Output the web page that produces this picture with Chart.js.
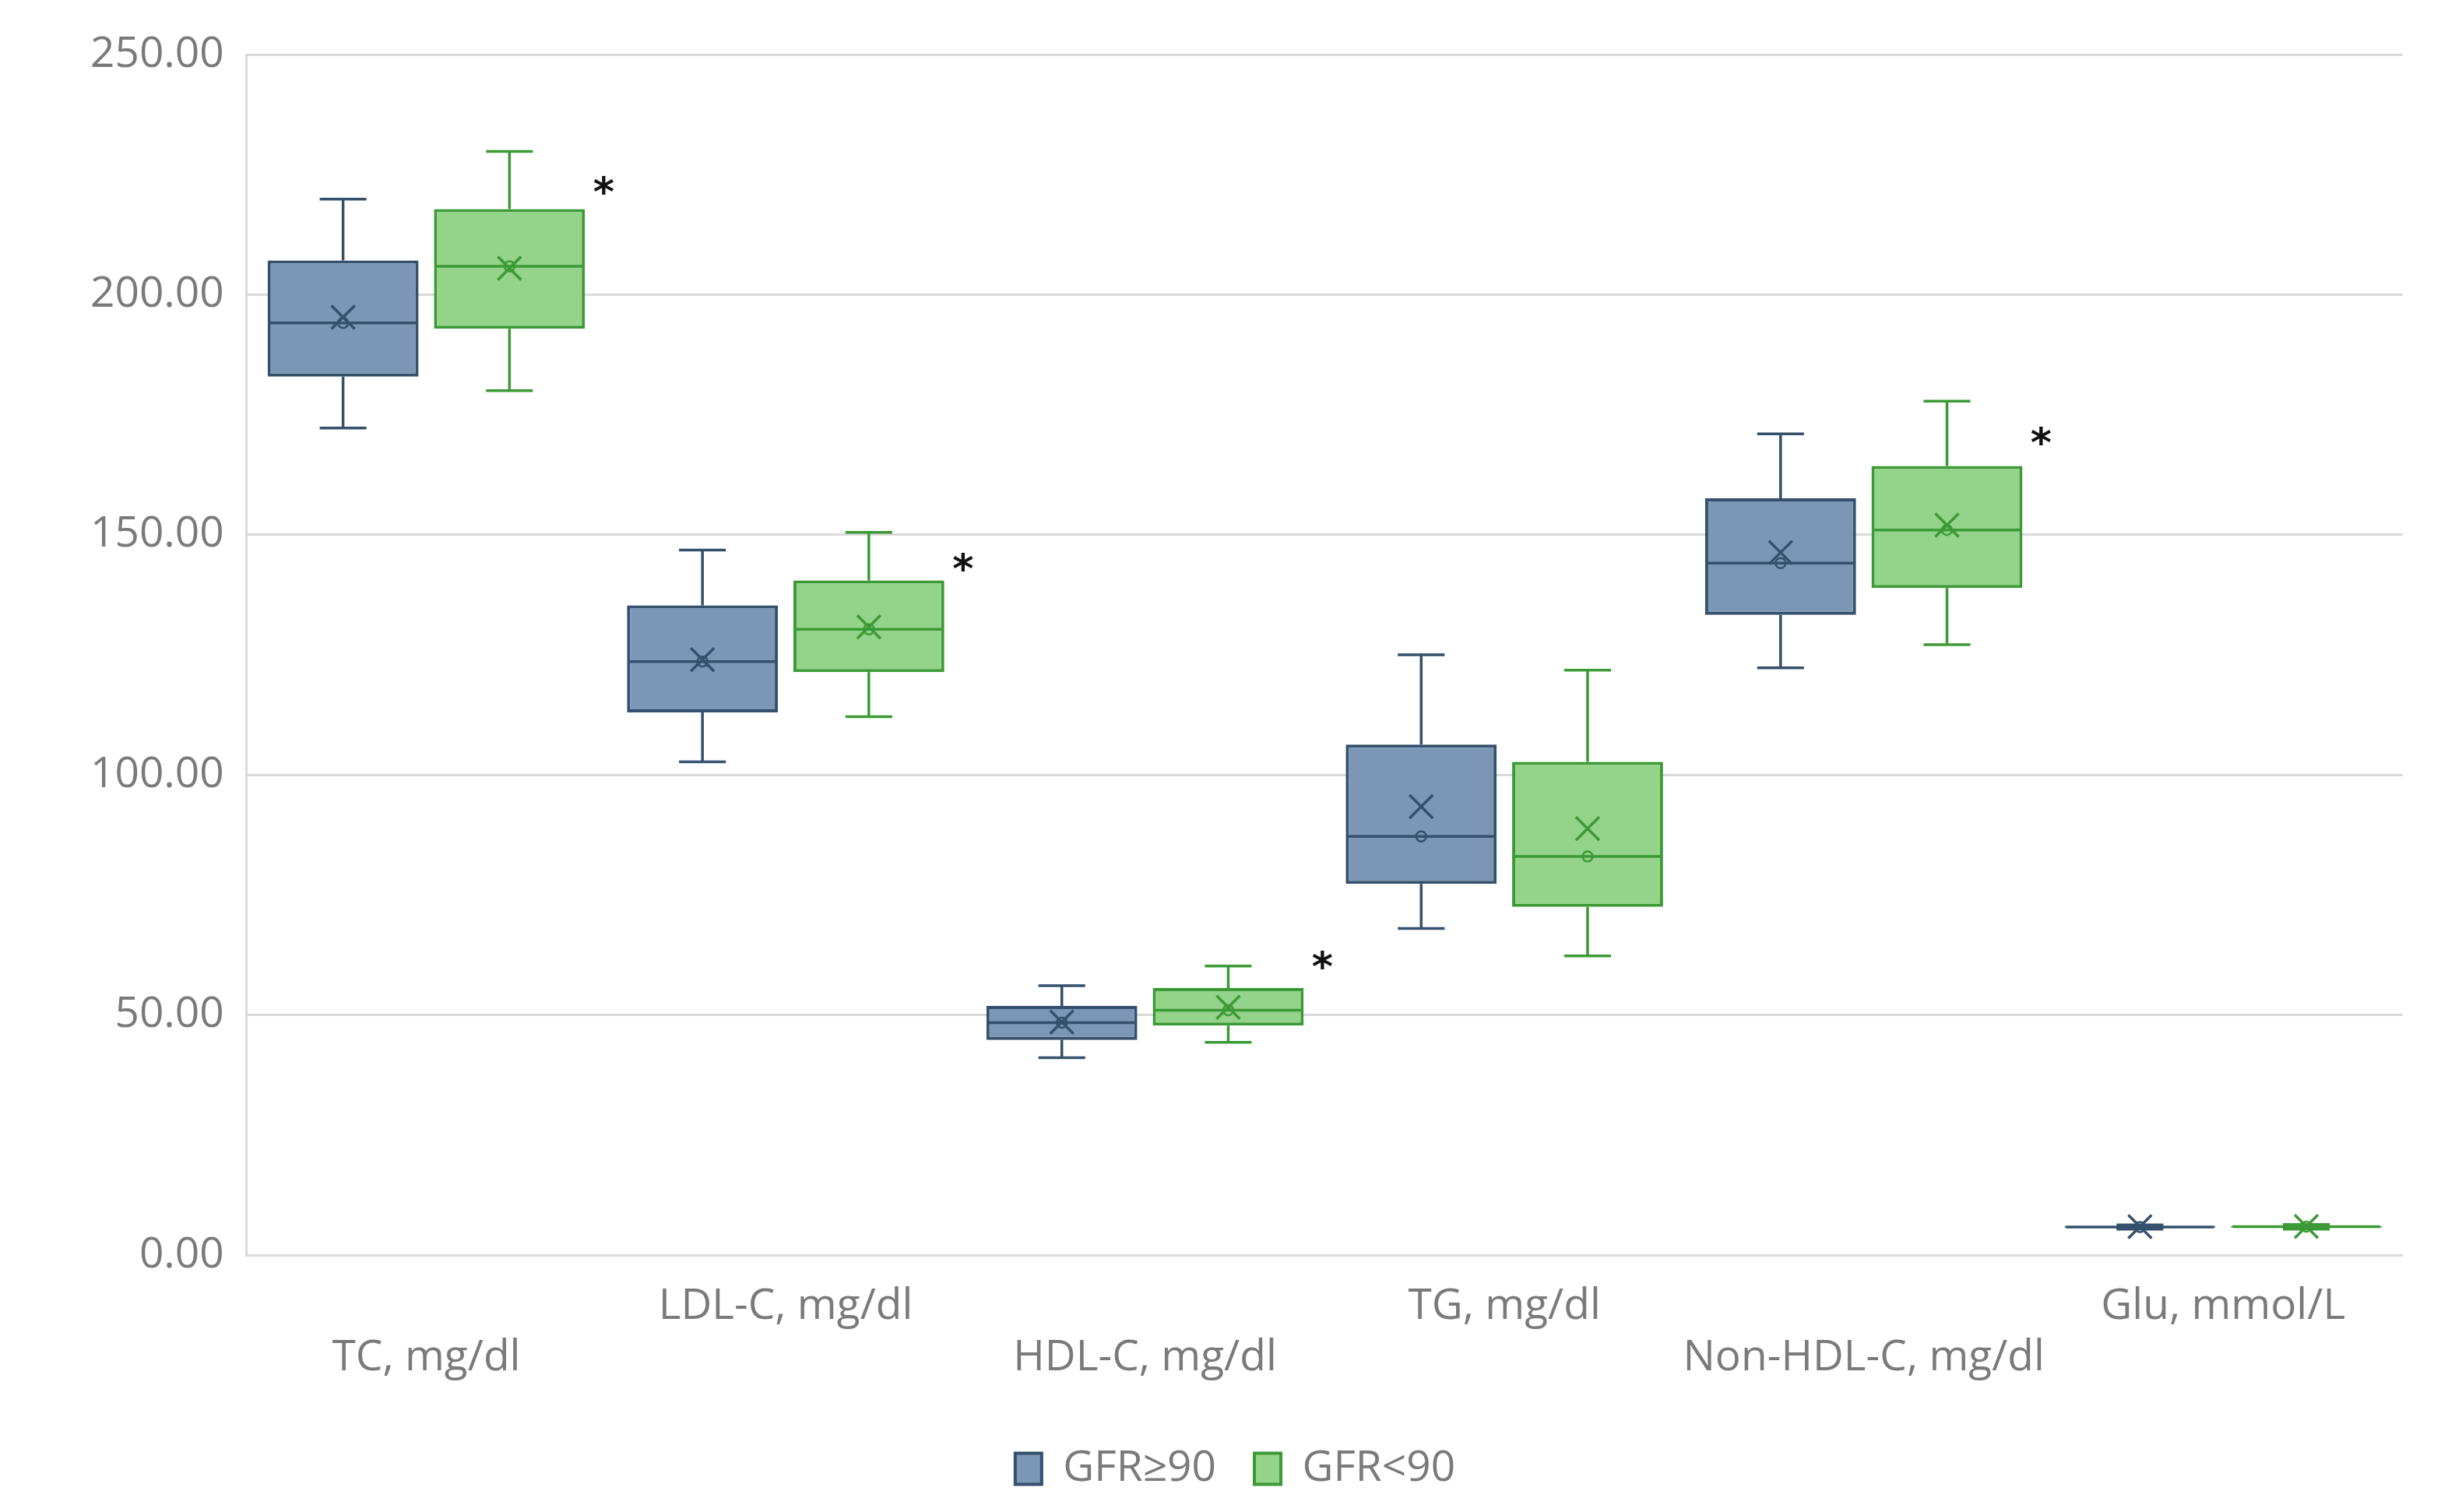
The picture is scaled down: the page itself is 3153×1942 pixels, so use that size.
<!DOCTYPE html>
<html>
<head>
<meta charset="utf-8">
<script src="https://cdn.jsdelivr.net/npm/chart.js@4.4.1/dist/chart.umd.min.js"></script>
<style>
  html, body { margin: 0; padding: 0; background: #ffffff; }
  #wrap { width: 3153px; height: 1942px; }
</style>
</head>
<body>
<div id="wrap"><canvas id="c" width="3153" height="1942"></canvas></div>
<script>
// ---- data ----
const categories = ['TC, mg/dl', 'LDL-C, mg/dl', 'HDL-C, mg/dl', 'TG, mg/dl', 'Non-HDL-C, mg/dl', 'Glu, mmol/L'];
const seriesNames = ['GFR\u226590', 'GFR<90'];

const g1Min    = [172.2, 102.7, 41.1, 68.0, 122.3, 5.4];
const g1Q1     = [182.9, 113.0, 44.8, 77.3, 133.3, 5.7];
const g1Median = [194.1, 123.6, 48.4, 87.2, 144.1, 5.85];
const g1Q3     = [207.1, 135.3, 51.9, 106.3, 157.6, 6.0];
const g1Max    = [219.9, 146.8, 56.1, 125.0, 171.0, 6.3];
const g1Mean   = [195.3, 124.0, 48.5, 93.4, 146.3, 5.9];

const g2Min    = [180.0, 112.1, 44.3, 62.3, 127.1, 5.4];
const g2Q1     = [192.9, 121.4, 47.8, 72.5, 138.9, 5.7];
const g2Median = [205.9, 130.3, 51.0, 83.0, 151.0, 5.9];
const g2Q3     = [217.8, 140.5, 55.6, 102.7, 164.3, 6.05];
const g2Max    = [229.8, 150.5, 60.2, 121.8, 177.8, 6.35];
const g2Mean   = [205.5, 130.8, 51.6, 88.8, 152.0, 5.95];

// significance markers (value level of the asterisk, null = none)
const starLevels = [222.8, 144.4, 61.6, null, 170.7, null];

const yTicks = [0, 50, 100, 150, 200, 250];

// ---- styles ----
const FONT = "'Open Sans', 'DejaVu Sans', sans-serif";
const TEXT_GRAY = '#7a7a7a';
const BLUE_FILL = '#7b97b5';
const BLUE_LINE = '#34506c';
const GREEN_FILL = '#94d38a';
const GREEN_LINE = '#3c9a36';

const groups = [
  { min: g1Min, q1: g1Q1, med: g1Median, q3: g1Q3, max: g1Max, mean: g1Mean, line: BLUE_LINE },
  { min: g2Min, q1: g2Q1, med: g2Median, q3: g2Q3, max: g2Max, mean: g2Mean, line: GREEN_LINE }
];

// staggered category labels (alternating rows)
const tickLabels = categories.map((c, i) => (i % 2 === 0 ? ['', c] : [c, '']));

const boxPlugin = {
  id: 'boxExtras',
  afterDatasetsDraw(chart) {
    const ctx = chart.ctx;
    const ys = chart.scales.y;
    ctx.save();
    groups.forEach((g, d) => {
      const meta = chart.getDatasetMeta(d);
      meta.data.forEach((bar, i) => {
        const x = bar.x;
        const w = bar.width;
        const capW = w * 0.31;
        const pMin = ys.getPixelForValue(g.min[i]);
        const pQ1 = ys.getPixelForValue(g.q1[i]);
        const pQ3 = ys.getPixelForValue(g.q3[i]);
        const pMax = ys.getPixelForValue(g.max[i]);
        const pMed = ys.getPixelForValue(g.med[i]);
        const pMean = ys.getPixelForValue(g.mean[i]);
        ctx.strokeStyle = g.line;
        ctx.lineWidth = 3.5;
        ctx.lineCap = 'butt';
        // whiskers
        ctx.beginPath();
        ctx.moveTo(x, pQ3); ctx.lineTo(x, pMax);
        ctx.moveTo(x - capW / 2, pMax); ctx.lineTo(x + capW / 2, pMax);
        ctx.moveTo(x, pQ1); ctx.lineTo(x, pMin);
        ctx.moveTo(x - capW / 2, pMin); ctx.lineTo(x + capW / 2, pMin);
        ctx.stroke();
        // median
        ctx.beginPath();
        ctx.moveTo(x - w / 2 + 2, pMed); ctx.lineTo(x + w / 2 - 2, pMed);
        ctx.stroke();
        // median point (small circle)
        ctx.lineWidth = 2.5;
        ctx.beginPath();
        ctx.arc(x, pMed, 6.5, 0, Math.PI * 2);
        ctx.stroke();
        // mean marker X
        const r = 15;
        ctx.lineWidth = 3.5;
        ctx.beginPath();
        ctx.moveTo(x - r, pMean - r); ctx.lineTo(x + r, pMean + r);
        ctx.moveTo(x - r, pMean + r); ctx.lineTo(x + r, pMean - r);
        ctx.stroke();
        // significance asterisk next to the second group's box
        if (d === 1 && starLevels[i] !== null) {
          const py = ys.getPixelForValue(starLevels[i]);
          ctx.fillStyle = '#111111';
          ctx.font = "bold 52px 'DejaVu Sans', sans-serif";
          ctx.textAlign = 'center';
          ctx.textBaseline = 'alphabetic';
          const m = ctx.measureText('*');
          const off = (m.actualBoundingBoxAscent - m.actualBoundingBoxDescent) / 2;
          ctx.fillText('*', x + w / 2 + 24, py + off);
        }
      });
    });
    ctx.restore();
  }
};

new Chart(document.getElementById('c'), {
  type: 'bar',
  data: {
    labels: tickLabels,
    datasets: [
      {
        label: seriesNames[0],
        data: g1Q1.map((v, i) => [v, g1Q3[i]]),
        backgroundColor: BLUE_FILL,
        borderColor: BLUE_LINE,
        borderWidth: 4,
        borderSkipped: false
      },
      {
        label: seriesNames[1],
        data: g2Q1.map((v, i) => [v, g2Q3[i]]),
        backgroundColor: GREEN_FILL,
        borderColor: GREEN_LINE,
        borderWidth: 4,
        borderSkipped: false
      }
    ]
  },
  options: {
    responsive: false,
    devicePixelRatio: 1,
    animation: false,
    categoryPercentage: 0.926,
    barPercentage: 0.907,
    layout: { padding: { left: 87, right: 67, top: 70, bottom: 18 } },
    plugins: {
      tooltip: { enabled: false },
      legend: {
        position: 'bottom',
        labels: {
          font: { family: FONT, size: 55 },
          color: TEXT_GRAY,
          boxWidth: 34,
          boxHeight: 40,
          padding: 49
        }
      }
    },
    scales: {
      x: {
        grid: { display: false, drawTicks: false },
        border: { display: false },
        ticks: {
          font: { family: FONT, size: 55 },
          color: TEXT_GRAY,
          padding: 33,
          maxRotation: 0,
          minRotation: 0,
          autoSkip: false
        }
      },
      y: {
        min: 0,
        max: 250,
        afterBuildTicks(scale) { scale.ticks = yTicks.map(v => ({ value: v })); },
        grid: { color: '#d9d9d9', lineWidth: 3, drawTicks: false },
        border: { display: true, color: '#d9d9d9', width: 3 },
        ticks: {
          font: { family: FONT, size: 55 },
          color: TEXT_GRAY,
          padding: 29,
          callback: v => Number(v).toFixed(2)
        }
      }
    }
  },
  plugins: [boxPlugin]
});
</script>
</body>
</html>
